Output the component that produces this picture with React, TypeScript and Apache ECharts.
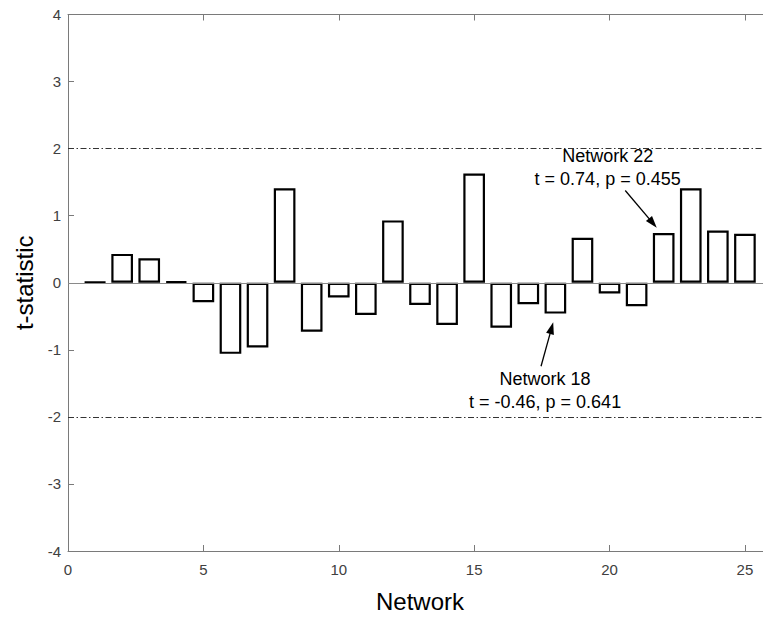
import React, { useEffect, useRef } from "react";
import * as echarts from "echarts";

const networkIds = [1, 2, 3, 4, 5, 6, 7, 8, 9, 10, 11, 12, 13, 14, 15, 16, 17, 18, 19, 20, 21, 22, 23, 24, 25];
const tValues = [0.01, 0.43, 0.365, 0.02, -0.29, -1.06, -0.965, 1.41, -0.73, -0.22, -0.48, 0.93, -0.33, -0.63, 1.63, -0.67, -0.32, -0.46, 0.67, -0.16, -0.35, 0.74, 1.41, 0.78, 0.73];
const thresholds = [2, -2];
const xRange = [0, 26];
const yRange = [-4, 4];
const annotationLabels = ["Network 22\nt = 0.74, p = 0.455", "Network 18\nt = -0.46, p = 0.641"];
const annotationTextAt = [[19.93, 1.72], [17.62, -1.6]];
const arrowFrom = [[20.58, 1.375], [17.47, -1.245]];
const arrowTo = [[21.6, 0.89], [17.86, -0.677]];

const FONT = "'Liberation Sans', Arial, Helvetica, sans-serif";
const CHART_W = 780;
const CHART_H = 618;
const GRID_L = 68;
const GRID_R = 8;
const GRID_T = 14.5;
const GRID_B = 62;

export default function App() {
  const ref = useRef<HTMLDivElement>(null);
  useEffect(() => {
    if (!ref.current) return;
    const chart = echarts.init(ref.current, undefined, { renderer: "svg" });
    const unitPx = (CHART_W - GRID_L - GRID_R) / (xRange[1] - xRange[0]);
    const axisColor = "#7a7a7a";
    const labelColor = "#404040";
    const option: any = {
      animation: false,
      backgroundColor: "#ffffff",
      grid: { left: GRID_L, right: GRID_R, top: GRID_T, bottom: GRID_B, containLabel: false },
      xAxis: [
        {
          type: "value",
          min: xRange[0],
          max: xRange[1],
          interval: 5,
          position: "bottom",
          name: "Network",
          nameLocation: "middle",
          nameGap: 38,
          nameTextStyle: { fontFamily: FONT, fontSize: 24, color: "#000" },
          axisLine: { show: true, onZero: false, lineStyle: { color: axisColor, width: 1 } },
          axisTick: { show: true, inside: true, length: 6, lineStyle: { color: axisColor } },
          axisLabel: { fontFamily: FONT, fontSize: 15, color: labelColor, margin: 11, showMaxLabel: false },
          splitLine: { show: false },
        },
        {
          type: "value",
          min: xRange[0],
          max: xRange[1],
          interval: 5,
          position: "top",
          axisLine: { show: true, onZero: false, lineStyle: { color: axisColor, width: 1 } },
          axisTick: { show: true, inside: true, length: 6, lineStyle: { color: axisColor } },
          axisLabel: { show: false },
          splitLine: { show: false },
        },
      ],
      yAxis: [
        {
          type: "value",
          min: yRange[0],
          max: yRange[1],
          interval: 1,
          position: "left",
          name: "t-statistic",
          nameLocation: "middle",
          nameGap: 30,
          nameTextStyle: { fontFamily: FONT, fontSize: 24, color: "#000" },
          axisLine: { show: true, onZero: false, lineStyle: { color: axisColor, width: 1 } },
          axisTick: { show: true, inside: true, length: 6, lineStyle: { color: axisColor } },
          axisLabel: { fontFamily: FONT, fontSize: 15, color: labelColor, margin: 7 },
          splitLine: { show: false },
        },
        {
          type: "value",
          min: yRange[0],
          max: yRange[1],
          interval: 1,
          position: "right",
          axisLine: { show: true, onZero: false, lineStyle: { color: axisColor, width: 1 } },
          axisTick: { show: true, inside: true, length: 6, lineStyle: { color: axisColor } },
          axisLabel: { show: false },
          splitLine: { show: false },
        },
      ],
      series: [
        {
          type: "bar",
          xAxisIndex: 0,
          yAxisIndex: 0,
          data: networkIds.map((n, i) => [n, tValues[i]]),
          barWidth: unitPx * 0.8,
          itemStyle: { color: "#ffffff", borderColor: "#000000", borderWidth: 2.2 },
          emphasis: { disabled: true },
          silent: true,
          z: 3,
          markLine: {
            silent: true,
            animation: false,
            label: { show: false },
            emphasis: { disabled: true },
            data: [
              [
                { coord: [xRange[0], 0], symbol: "none", lineStyle: { color: "#8a8a8a", width: 1, type: "solid" } },
                { coord: [xRange[1], 0], symbol: "none" },
              ],
              ...thresholds.map((t) => [
                { coord: [xRange[0], t], symbol: "none", lineStyle: { color: "#333333", width: 1, type: [6, 2.5, 1.5, 2.5] } },
                { coord: [xRange[1], t], symbol: "none" },
              ]),
              ...arrowFrom.map((from, i) => [
                { coord: from, symbol: "none", lineStyle: { color: "#000000", width: 1.3, type: "solid" } },
                { coord: arrowTo[i], symbol: "triangle", symbolSize: [8, 12] },
              ]),
            ],
          },
          markPoint: {
            silent: true,
            animation: false,
            symbol: "circle",
            symbolSize: 0,
            itemStyle: { color: "transparent" },
            label: {
              show: true,
              position: "inside",
              fontFamily: FONT,
              fontSize: 18,
              lineHeight: 23,
              color: "#000000",
              align: "center",
              formatter: (p: any) => p.name,
            },
            data: annotationLabels.map((txt, i) => ({ name: txt, coord: annotationTextAt[i] })),
          },
        },
      ],
    };
    chart.setOption(option);
    return () => chart.dispose();
  }, []);
  return (
    <div style={{ position: "fixed", left: 0, top: 0, width: 763, height: 618, overflow: "hidden", background: "#fff" }}>
      <div ref={ref} style={{ width: CHART_W, height: CHART_H }} />
    </div>
  );
}
